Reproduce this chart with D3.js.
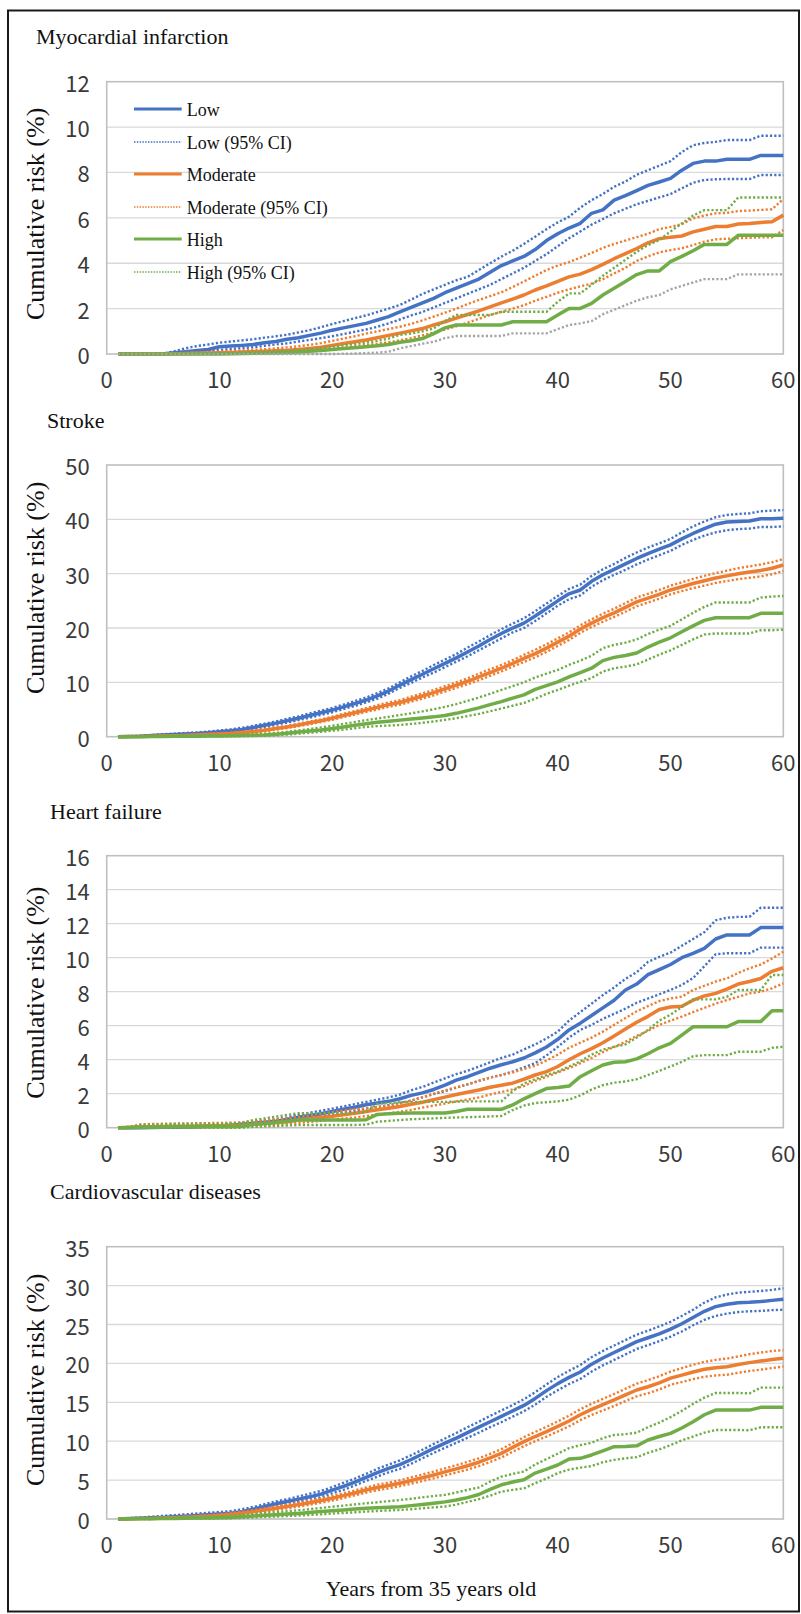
<!DOCTYPE html>
<html><head><meta charset="utf-8">
<script src="https://cdn.jsdelivr.net/npm/d3@7"></script>
<style>body{margin:0;background:#fff}svg{display:block}</style>
</head><body><script>
// ---------- DATA ----------
const years = [1,2,3,4,5,6,7,8,9,10,11,12,13,14,15,16,17,18,19,20,21,22,23,24,25,26,27,28,29,30,31,32,33,34,35,36,37,38,39,40,41,42,43,44,45,46,47,48,49,50,51,52,53,54,55,56,57,58,59,60];
const xTicks = [0,10,20,30,40,50,60];
const panelTitles = ["Myocardial infarction","Stroke","Heart failure","Cardiovascular diseases"];
const yMaxes = [12,50,16,35];
const ySteps = [2,10,2,5];
const legendLabels = ["Low","Low (95% CI)","Moderate","Moderate (95% CI)","High","High (95% CI)"];
const yTitle = "Cumulative risk (%)";
const xTitle = "Years from 35 years old";

// Myocardial infarction
const miLow  = [0,0,0,0,0,0.05,0.1,0.15,0.2,0.32,0.35,0.38,0.42,0.5,0.55,0.65,0.72,0.82,0.92,1.05,1.15,1.25,1.35,1.5,1.65,1.86,2.05,2.25,2.45,2.7,2.9,3.1,3.3,3.6,3.9,4.1,4.3,4.6,5.0,5.3,5.55,5.76,6.2,6.35,6.78,6.98,7.2,7.43,7.58,7.74,8.1,8.4,8.5,8.5,8.58,8.58,8.58,8.75,8.75,8.75];
const miLowU = [0,0,0,0,0.02,0.12,0.25,0.35,0.42,0.5,0.55,0.6,0.65,0.72,0.78,0.85,0.95,1.05,1.18,1.32,1.45,1.58,1.7,1.85,2.0,2.16,2.4,2.65,2.85,3.05,3.25,3.4,3.7,4.0,4.29,4.55,4.85,5.17,5.5,5.8,6.05,6.45,6.78,7.05,7.37,7.6,7.9,8.1,8.3,8.5,8.9,9.2,9.3,9.35,9.43,9.43,9.43,9.62,9.62,9.62];
const miLowL = [0,0,0,0,0,0.02,0.05,0.08,0.12,0.18,0.22,0.26,0.3,0.36,0.42,0.47,0.55,0.62,0.7,0.78,0.88,0.98,1.08,1.2,1.35,1.52,1.7,1.85,2.05,2.25,2.45,2.65,2.85,3.05,3.3,3.55,3.8,4.1,4.4,4.75,5.1,5.4,5.7,5.95,6.2,6.4,6.6,6.75,6.9,7.05,7.3,7.55,7.67,7.7,7.71,7.71,7.71,7.89,7.89,7.89];
const miMod  = [0,0,0,0,0,0.01,0.02,0.03,0.04,0.05,0.07,0.09,0.1,0.12,0.14,0.16,0.2,0.24,0.3,0.38,0.46,0.54,0.62,0.72,0.82,0.92,1.02,1.12,1.28,1.42,1.58,1.74,1.9,2.08,2.25,2.42,2.6,2.82,3.0,3.2,3.4,3.52,3.72,3.95,4.2,4.42,4.65,4.9,5.08,5.15,5.2,5.38,5.5,5.62,5.62,5.73,5.75,5.8,5.83,6.12];
const miModU = [0,0,0,0,0.01,0.02,0.04,0.06,0.08,0.1,0.12,0.15,0.18,0.21,0.25,0.29,0.34,0.4,0.48,0.58,0.68,0.78,0.9,1.0,1.1,1.2,1.33,1.48,1.65,1.82,2.0,2.2,2.38,2.55,2.72,2.95,3.2,3.45,3.7,3.9,4.05,4.25,4.45,4.68,4.85,5.0,5.15,5.3,5.5,5.6,5.72,5.98,6.1,6.2,6.22,6.3,6.32,6.35,6.38,6.83];
const miModL = [0,0,0,0,0,0,0,0,0.01,0.02,0.03,0.04,0.05,0.06,0.07,0.09,0.11,0.14,0.18,0.22,0.28,0.34,0.4,0.45,0.52,0.6,0.7,0.82,0.95,1.08,1.22,1.38,1.55,1.72,1.86,2.0,2.15,2.35,2.52,2.7,2.85,2.98,3.1,3.3,3.55,3.8,4.1,4.3,4.48,4.58,4.66,4.8,4.95,5.05,5.08,5.1,5.12,5.14,5.14,5.46];
const miHigh = [0,0,0,0,0,0,0,0,0,0,0.01,0.02,0.03,0.04,0.05,0.07,0.09,0.12,0.15,0.2,0.24,0.28,0.32,0.36,0.42,0.52,0.58,0.68,0.9,1.15,1.28,1.28,1.28,1.28,1.28,1.42,1.42,1.42,1.42,1.72,2.01,2.01,2.23,2.6,2.9,3.2,3.5,3.66,3.66,4.07,4.3,4.55,4.83,4.83,4.83,5.23,5.23,5.23,5.23,5.23];
const miHighU = [0,0,0,0,0,0,0,0,0.01,0.02,0.03,0.05,0.07,0.09,0.12,0.15,0.18,0.22,0.27,0.32,0.38,0.44,0.5,0.58,0.68,0.84,0.9,1.0,1.13,1.45,1.72,1.72,1.72,1.72,1.86,1.86,1.86,1.86,1.86,2.3,2.67,2.67,3.05,3.45,3.8,4.15,4.5,4.8,5.02,5.4,5.75,6.1,6.34,6.34,6.34,6.9,6.9,6.9,6.9,6.9];
const miHighL = [0,0,0,0,0,0,0,0,0,0,0,0,0,0,0,0,0,0,0,0,0.01,0.02,0.04,0.06,0.1,0.25,0.35,0.45,0.54,0.7,0.79,0.79,0.79,0.79,0.79,0.91,0.91,0.91,0.91,1.1,1.28,1.35,1.45,1.75,1.95,2.15,2.35,2.5,2.6,2.85,3.0,3.15,3.3,3.3,3.3,3.51,3.51,3.51,3.51,3.51];

// Stroke
const stLow  = [0,0.05,0.1,0.2,0.3,0.4,0.5,0.6,0.75,0.9,1.1,1.35,1.7,2.1,2.5,2.95,3.4,3.9,4.4,4.9,5.5,6.1,6.75,7.5,8.4,9.5,10.5,11.5,12.5,13.5,14.5,15.6,16.7,17.9,19.0,20.0,20.9,22.2,23.6,25.0,26.3,27.0,28.6,29.8,30.8,31.8,32.8,33.7,34.5,35.3,36.4,37.4,38.3,39.1,39.5,39.6,39.7,40.1,40.1,40.2];
const stLowU = [0,0.1,0.2,0.3,0.45,0.55,0.7,0.8,0.95,1.15,1.35,1.65,2.0,2.4,2.8,3.3,3.75,4.3,4.8,5.3,5.9,6.55,7.2,8.0,8.9,10.0,11.1,12.1,13.2,14.2,15.2,16.4,17.5,18.7,19.8,20.8,21.8,23.1,24.5,25.9,27.2,28.0,29.6,30.8,31.8,32.9,33.9,34.8,35.6,36.4,37.6,38.7,39.6,40.4,40.8,41.0,41.1,41.5,41.6,41.7];
const stLowL = [0,0.02,0.05,0.1,0.18,0.25,0.32,0.42,0.55,0.68,0.85,1.05,1.4,1.8,2.2,2.6,3.05,3.5,4.0,4.5,5.1,5.65,6.3,7.0,7.9,9.0,9.9,10.9,11.8,12.8,13.8,14.8,15.9,17.0,18.1,19.2,20.0,21.3,22.7,24.1,25.3,26.0,27.6,28.8,29.8,30.7,31.7,32.6,33.4,34.2,35.3,36.2,37.0,37.6,38.0,38.2,38.3,38.6,38.6,38.7];
const stMod  = [0,0.02,0.05,0.08,0.12,0.17,0.22,0.3,0.4,0.5,0.6,0.75,0.95,1.2,1.5,1.8,2.15,2.55,2.95,3.4,3.9,4.4,4.9,5.4,5.9,6.3,6.9,7.5,8.1,8.8,9.5,10.2,11.0,11.8,12.6,13.5,14.4,15.3,16.3,17.4,18.5,19.8,20.9,21.9,22.8,23.8,24.8,25.5,26.2,27.0,27.6,28.2,28.7,29.2,29.6,30.0,30.3,30.6,31.0,31.6];
const stModU = [0,0.04,0.08,0.12,0.18,0.24,0.3,0.4,0.52,0.63,0.75,0.92,1.12,1.4,1.7,2.0,2.38,2.8,3.2,3.68,4.2,4.72,5.25,5.78,6.3,6.72,7.35,7.98,8.6,9.3,10.0,10.75,11.6,12.4,13.2,14.1,15.05,16.0,17.0,18.1,19.2,20.5,21.6,22.65,23.55,24.6,25.6,26.3,27.0,27.8,28.4,29.05,29.6,30.1,30.55,31.0,31.35,31.7,32.1,32.7];
const stModL = [0,0.01,0.02,0.04,0.07,0.1,0.14,0.2,0.28,0.37,0.45,0.58,0.78,1.0,1.3,1.6,1.92,2.3,2.7,3.12,3.6,4.08,4.55,5.02,5.5,5.88,6.45,7.02,7.6,8.3,9.0,9.65,10.4,11.2,12.0,12.9,13.75,14.6,15.6,16.7,17.8,19.1,20.2,21.15,22.05,23.0,24.0,24.7,25.4,26.2,26.8,27.35,27.8,28.3,28.65,29.0,29.25,29.5,29.9,30.5];
const stHigh = [0,0,0,0.02,0.04,0.06,0.08,0.1,0.12,0.14,0.16,0.2,0.25,0.32,0.45,0.62,0.85,1.05,1.25,1.5,1.8,2.1,2.4,2.65,2.85,3.05,3.25,3.45,3.65,3.9,4.3,4.8,5.3,5.9,6.45,7.1,7.7,8.7,9.4,10.1,11.0,11.8,12.6,14.0,14.6,14.95,15.4,16.5,17.4,18.2,19.3,20.4,21.4,21.9,21.9,21.9,21.9,22.7,22.7,22.7];
const stHighU = [0,0,0.02,0.04,0.07,0.1,0.13,0.17,0.21,0.25,0.3,0.37,0.45,0.55,0.7,0.9,1.15,1.4,1.7,2.0,2.35,2.7,3.05,3.35,3.65,4.0,4.3,4.65,5.05,5.5,6.0,6.6,7.2,7.9,8.6,9.3,10.0,10.9,11.6,12.3,13.2,14.0,14.9,16.3,16.9,17.3,17.9,18.9,19.7,20.4,21.6,22.8,23.9,24.7,24.7,24.7,24.7,25.6,25.8,25.9];
const stHighL = [0,0,0,0,0.01,0.02,0.03,0.04,0.05,0.06,0.08,0.1,0.13,0.17,0.25,0.38,0.55,0.72,0.9,1.1,1.3,1.55,1.8,1.95,2.05,2.15,2.35,2.55,2.8,3.1,3.4,3.8,4.2,4.7,5.2,5.7,6.2,7.0,7.9,8.6,9.4,10.1,10.8,12.0,12.6,12.9,13.3,14.2,15.1,15.9,16.9,17.9,18.8,19.0,19.0,19.0,19.0,19.6,19.6,19.7];

// Heart failure
const hfLow  = [0,0,0,0.01,0.02,0.03,0.04,0.06,0.08,0.1,0.14,0.2,0.26,0.32,0.38,0.48,0.62,0.72,0.82,0.95,1.08,1.2,1.35,1.45,1.55,1.7,1.9,2.05,2.25,2.5,2.8,3.0,3.25,3.5,3.7,3.88,4.1,4.4,4.75,5.2,5.75,6.15,6.6,7.05,7.5,8.1,8.45,9.0,9.3,9.6,10.0,10.25,10.55,11.1,11.34,11.34,11.34,11.77,11.77,11.77];
const hfLowU = [0,0,0.01,0.02,0.04,0.06,0.08,0.1,0.13,0.17,0.22,0.28,0.35,0.42,0.5,0.6,0.75,0.88,1.0,1.12,1.25,1.38,1.52,1.65,1.78,1.95,2.2,2.4,2.65,2.9,3.15,3.35,3.6,3.85,4.1,4.3,4.6,4.9,5.25,5.65,6.3,6.8,7.3,7.8,8.25,8.75,9.15,9.75,10.05,10.3,10.7,11.1,11.5,12.2,12.35,12.4,12.41,12.94,12.94,12.94];
const hfLowL = [0,0,0,0,0.01,0.01,0.02,0.03,0.04,0.05,0.08,0.12,0.17,0.22,0.27,0.35,0.48,0.57,0.66,0.77,0.9,1.0,1.12,1.22,1.33,1.45,1.6,1.78,1.98,2.15,2.35,2.55,2.75,2.95,3.1,3.3,3.55,3.8,4.25,4.75,5.3,5.75,6.05,6.4,6.7,7.0,7.35,7.6,7.85,8.1,8.4,8.8,9.5,10.2,10.26,10.26,10.26,10.59,10.59,10.59];
const hfMod  = [0,0.02,0.05,0.06,0.07,0.08,0.09,0.1,0.11,0.12,0.13,0.15,0.2,0.25,0.3,0.35,0.45,0.52,0.6,0.68,0.76,0.85,0.95,1.05,1.15,1.25,1.38,1.5,1.65,1.8,1.95,2.08,2.22,2.38,2.5,2.62,2.85,3.1,3.3,3.6,4.0,4.35,4.65,5.0,5.4,5.8,6.2,6.55,6.95,7.1,7.14,7.5,7.75,7.9,8.15,8.45,8.6,8.78,9.2,9.41];
const hfModU = [0,0.05,0.2,0.22,0.23,0.24,0.25,0.26,0.27,0.28,0.29,0.32,0.37,0.42,0.48,0.55,0.63,0.72,0.82,0.92,1.0,1.08,1.15,1.22,1.28,1.4,1.6,1.8,2.0,2.2,2.38,2.55,2.75,2.95,3.1,3.25,3.45,3.65,3.95,4.3,4.7,5.0,5.3,5.65,6.05,6.45,6.85,7.15,7.45,7.6,7.71,8.1,8.35,8.6,8.78,9.1,9.38,9.6,9.95,10.35];
const hfModL = [0,0,0,0.01,0.02,0.02,0.03,0.03,0.04,0.05,0.06,0.08,0.1,0.13,0.16,0.2,0.28,0.34,0.4,0.46,0.54,0.6,0.68,0.76,0.85,0.94,1.05,1.18,1.3,1.42,1.55,1.65,1.78,1.95,2.1,2.25,2.45,2.75,3.0,3.25,3.5,3.8,4.1,4.45,4.75,5.05,5.4,5.7,6.05,6.3,6.53,6.8,7.05,7.3,7.51,7.7,7.9,8.0,8.2,8.49];
const hfHigh = [0,0,0.02,0.03,0.04,0.05,0.05,0.05,0.05,0.05,0.06,0.08,0.2,0.25,0.3,0.38,0.45,0.45,0.45,0.45,0.45,0.45,0.47,0.78,0.82,0.85,0.87,0.87,0.87,0.87,0.95,1.08,1.08,1.08,1.08,1.34,1.7,2.0,2.3,2.36,2.45,3.0,3.35,3.69,3.85,3.88,4.05,4.35,4.7,4.96,5.45,5.94,5.94,5.94,5.94,6.24,6.24,6.24,6.88,6.88];
const hfHighU = [0,0.05,0.15,0.18,0.2,0.22,0.22,0.22,0.22,0.22,0.24,0.28,0.45,0.55,0.65,0.75,0.85,0.85,0.85,0.85,0.85,0.85,0.9,1.4,1.45,1.5,1.52,1.52,1.52,1.52,1.53,1.55,1.55,1.55,1.55,2.15,2.6,2.85,3.1,3.3,3.6,3.9,4.3,4.6,4.76,4.9,5.3,5.75,6.3,6.65,7.1,7.55,7.55,7.55,7.7,8.1,8.1,8.1,8.98,8.98];
const hfHighL = [0,0,0,0,0,0,0,0,0,0,0,0,0.05,0.08,0.1,0.13,0.15,0.16,0.16,0.16,0.16,0.16,0.18,0.35,0.4,0.45,0.5,0.52,0.55,0.58,0.6,0.62,0.64,0.66,0.69,1.04,1.3,1.45,1.5,1.55,1.65,1.9,2.25,2.5,2.65,2.72,2.85,3.1,3.35,3.6,3.88,4.2,4.27,4.27,4.27,4.47,4.47,4.47,4.7,4.76];

// Cardiovascular diseases
const cvLow  = [0,0.05,0.1,0.15,0.2,0.28,0.36,0.45,0.55,0.65,0.75,0.95,1.25,1.6,1.95,2.25,2.55,2.85,3.2,3.7,4.2,4.75,5.35,5.95,6.5,7.0,7.65,8.35,9.08,9.75,10.4,11.1,11.8,12.5,13.2,13.9,14.6,15.5,16.5,17.4,18.2,18.9,19.9,20.7,21.4,22.1,22.8,23.3,23.8,24.4,25.1,25.9,26.7,27.3,27.6,27.8,27.85,27.95,28.1,28.24];
const cvLowU = [0,0.1,0.2,0.3,0.4,0.5,0.6,0.7,0.8,0.9,1.02,1.25,1.55,1.9,2.25,2.55,2.9,3.25,3.6,4.1,4.65,5.2,5.8,6.45,7.0,7.55,8.2,8.9,9.65,10.35,11.05,11.8,12.5,13.25,13.95,14.65,15.4,16.3,17.3,18.25,19.05,19.8,20.8,21.6,22.3,23.0,23.7,24.2,24.75,25.35,26.1,26.9,27.8,28.5,28.85,29.1,29.2,29.3,29.45,29.65];
const cvLowL = [0,0.02,0.04,0.06,0.09,0.13,0.18,0.25,0.32,0.4,0.5,0.68,0.95,1.3,1.65,1.95,2.22,2.5,2.8,3.3,3.75,4.3,4.9,5.45,6.0,6.45,7.1,7.8,8.5,9.15,9.8,10.45,11.1,11.8,12.45,13.15,13.85,14.7,15.7,16.55,17.35,18.0,18.95,19.75,20.45,21.15,21.85,22.35,22.85,23.45,24.1,24.9,25.6,26.1,26.4,26.6,26.7,26.75,26.85,26.9];
const cvMod  = [0,0.02,0.05,0.08,0.12,0.16,0.22,0.28,0.36,0.45,0.58,0.75,0.95,1.15,1.38,1.6,1.85,2.1,2.38,2.66,3.0,3.35,3.72,4.05,4.3,4.6,4.95,5.3,5.66,6.05,6.45,6.85,7.3,7.85,8.44,9.2,9.94,10.6,11.22,11.9,12.6,13.4,14.1,14.7,15.3,15.95,16.58,17.0,17.5,18.1,18.5,18.9,19.24,19.45,19.58,19.85,20.1,20.3,20.5,20.65];
const cvModU = [0,0.05,0.1,0.15,0.2,0.25,0.32,0.4,0.5,0.6,0.75,0.93,1.14,1.36,1.6,1.83,2.1,2.37,2.65,2.95,3.3,3.67,4.05,4.4,4.66,4.98,5.35,5.72,6.1,6.5,6.92,7.34,7.8,8.37,8.98,9.76,10.52,11.2,11.84,12.55,13.28,14.1,14.82,15.45,16.07,16.74,17.4,17.84,18.36,18.95,19.4,19.82,20.2,20.45,20.62,20.9,21.18,21.4,21.6,21.7];
const cvModL = [0,0.01,0.02,0.04,0.06,0.09,0.13,0.17,0.23,0.3,0.42,0.57,0.76,0.95,1.16,1.37,1.6,1.83,2.1,2.37,2.7,3.03,3.39,3.7,3.94,4.22,4.55,4.88,5.22,5.6,5.98,6.36,6.8,7.33,7.9,8.64,9.36,10.0,10.6,11.25,11.92,12.7,13.38,13.95,14.53,15.16,15.76,16.16,16.64,17.25,17.6,17.98,18.28,18.45,18.54,18.8,19.02,19.2,19.4,19.6];
const cvHigh = [0,0,0.02,0.04,0.06,0.08,0.1,0.12,0.14,0.16,0.2,0.28,0.38,0.48,0.56,0.64,0.72,0.82,0.95,1.07,1.17,1.27,1.37,1.45,1.52,1.58,1.72,1.87,2.02,2.2,2.44,2.75,3.15,3.8,4.4,4.75,5.05,5.9,6.4,6.94,7.7,7.8,8.23,8.75,9.3,9.33,9.4,10.15,10.6,11.0,11.7,12.5,13.4,14.0,14.0,14.0,14.0,14.35,14.35,14.35];
const cvHighU = [0,0.02,0.05,0.08,0.12,0.16,0.2,0.24,0.28,0.32,0.4,0.5,0.62,0.75,0.88,1.0,1.12,1.26,1.42,1.58,1.72,1.88,2.02,2.15,2.3,2.44,2.6,2.78,2.95,3.1,3.4,3.75,4.05,4.8,5.44,5.8,6.1,7.0,7.7,8.4,9.1,9.5,9.8,10.4,10.8,10.9,11.1,11.8,12.4,13.1,13.9,14.8,15.6,16.2,16.2,16.2,16.15,16.88,16.88,16.88];
const cvHighL = [0,0,0,0.01,0.02,0.03,0.04,0.05,0.06,0.08,0.1,0.14,0.2,0.26,0.32,0.38,0.45,0.52,0.6,0.7,0.78,0.86,0.95,1.03,1.1,1.16,1.26,1.38,1.5,1.6,1.85,2.2,2.55,3.0,3.51,3.75,3.94,4.6,5.2,5.9,6.35,6.6,6.8,7.3,7.6,7.8,7.95,8.5,8.95,9.5,10.1,10.6,11.1,11.44,11.44,11.44,11.4,11.79,11.79,11.79];

// ---------- LAYOUT / STYLE ----------
const W = 801, H = 1614;
const C = {low:"#4472C4", mod:"#ED7D31", high:"#70AD47", gray:"#A5A5A5"};
const serif = "'Liberation Serif','Times New Roman',serif";
const sans = "'Noto Sans CJK JP','Noto Sans',sans-serif";
const plotLeft = 106.7, plotRight = 783.3;
const plotBoxes = [[81.7,354],[465,736.7],[855.7,1127.7],[1246.7,1519]];
const titlePos = [[36,44],[47,428],[50,819],[50,1199]];
const yTitleShift = [-4,-13,1,-3];

const panelSeries = [
  [miLow,miLowU,miLowL,miMod,miModU,miModL,miHigh,miHighU,miHighL],
  [stLow,stLowU,stLowL,stMod,stModU,stModL,stHigh,stHighU,stHighL],
  [hfLow,hfLowU,hfLowL,hfMod,hfModU,hfModL,hfHigh,hfHighU,hfHighL],
  [cvLow,cvLowU,cvLowL,cvMod,cvModU,cvModL,cvHigh,cvHighU,cvHighL]
];
const seriesColor = [C.low,C.low,C.low,C.mod,C.mod,C.mod,C.high,C.high,C.high];
const seriesDotted = [false,true,true,false,true,true,false,true,true];

const svg = d3.select("body").append("svg").attr("width",W).attr("height",H);
svg.append("rect").attr("width",W).attr("height",H).attr("fill","#fff");
svg.append("rect").attr("x",8).attr("y",10.5).attr("width",791).attr("height",1601)
  .attr("fill","none").attr("stroke","#1a1a1a").attr("stroke-width",2);

const x = d3.scaleLinear().domain([0,60]).range([plotLeft,plotRight]);

panelTitles.forEach((title,p)=>{
  const [top,bottom] = plotBoxes[p];
  const y = d3.scaleLinear().domain([0,yMaxes[p]]).range([bottom,top]);
  const g = svg.append("g");
  const yTicks = d3.range(0, yMaxes[p]+0.001, ySteps[p]);

  // gridlines
  g.selectAll("line.grid").data(yTicks.filter(v=>v>0 && v<yMaxes[p])).enter().append("line")
    .attr("x1",plotLeft).attr("x2",plotRight).attr("y1",d=>y(d)).attr("y2",d=>y(d))
    .attr("stroke","#d9d9d9").attr("stroke-width",1.3);
  // plot frame
  g.append("rect").attr("x",plotLeft).attr("y",top).attr("width",plotRight-plotLeft).attr("height",bottom-top)
    .attr("fill","none").attr("stroke","#bfbfbf").attr("stroke-width",1.6);

  // y tick labels
  g.selectAll("text.yt").data(yTicks).enter().append("text")
    .attr("x",plotLeft-17).attr("y",d=>y(d)).attr("text-anchor","end").attr("dominant-baseline","central")
    .attr("font-family",sans).attr("font-size",22).attr("fill","#3a3a3a").text(d=>d);
  // x tick labels
  g.selectAll("text.xt").data(xTicks).enter().append("text")
    .attr("x",d=>x(d)).attr("y",bottom+24).attr("text-anchor","middle").attr("dominant-baseline","central")
    .attr("font-family",sans).attr("font-size",22).attr("fill","#3a3a3a").text(d=>d);

  // panel title
  g.append("text").attr("x",titlePos[p][0]).attr("y",titlePos[p][1])
    .attr("font-family",serif).attr("font-size",22).attr("fill","#111").text(title);
  // y-axis title
  const cy = (top+bottom)/2 + yTitleShift[p];
  g.append("text").attr("transform",`translate(35.5,${cy}) rotate(-90)`)
    .attr("text-anchor","middle").attr("dominant-baseline","central")
    .attr("font-family",serif).attr("font-size",26).attr("fill","#111").text(yTitle);

  // series
  const line = d3.line().x((d,i)=>x(years[i])).y(d=>y(d));
  panelSeries[p].forEach((vals,k)=>{
    let col = seriesColor[k];
    if (p===0 && k===8) col = C.gray;
    const path = g.append("path").datum(vals).attr("d",line).attr("fill","none")
      .attr("stroke",col).attr("stroke-linejoin","round");
    if (seriesDotted[k]) path.attr("stroke-width",2.4).attr("stroke-dasharray","2.2,2.1");
    else path.attr("stroke-width",3.5);
  });

  // legend (first panel only)
  if (p===0) {
    const legColors = [C.low,C.low,C.mod,C.mod,C.high,C.high];
    const rowY = [109,142,174,207,239,272];
    legendLabels.forEach((lab,i)=>{
      const dotted = i%2===1;
      g.append("line").attr("x1",134).attr("x2",181.7).attr("y1",rowY[i]).attr("y2",rowY[i])
        .attr("stroke",legColors[i]).attr("stroke-width",dotted?1.6:3.2)
        .attr("stroke-dasharray",dotted?"1.5,1.3":null);
      g.append("text").attr("x",186.7).attr("y",rowY[i]+6.5)
        .attr("font-family",serif).attr("font-size",18).attr("fill","#111").text(lab);
    });
  }
});

// x-axis title
svg.append("text").attr("x",431).attr("y",1596).attr("text-anchor","middle")
  .attr("font-family",serif).attr("font-size",22).attr("fill","#111").text(xTitle);
</script></body></html>
